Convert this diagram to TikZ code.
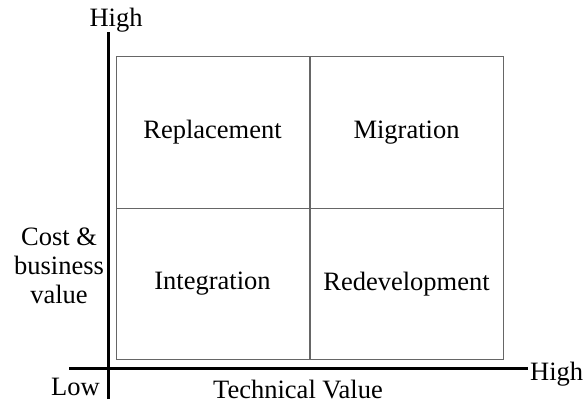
\documentclass[tikz,border=0pt]{standalone}
\usepackage{fontspec}
\setmainfont{Liberation Serif}
\usepackage{tikz}

\begin{document}
\begin{tikzpicture}[x=1pt, y=-1pt, font=\fontsize{26.5}{29}\selectfont]
    \tikzstyle{axis}=[draw,line width = 3pt,-,black!100]
    \tikzstyle{cell}=[draw,line width = 1pt,black!60,text=black,minimum width = 193pt,minimum height = 151.5pt,inner sep = 0pt]
    \tikzstyle{lbl}=[inner sep = 0pt]
    \useasboundingbox (0,0) rectangle (584,407);
    % quadrants
    \node[cell] (repl) at (212.5,132.5) {Replacement};
    \node[cell] (migr) at (406.5,132.5) {Migration};
    \node[cell] (integ) at (212.5,284) {Integration};
    \node[cell] (redev) at (406.5,284) {Redevelopment};
    % axes
    \coordinate (ytop) at (108,32);
    \coordinate (ybot) at (108,399);
    \coordinate (xleft) at (69,368);
    \coordinate (xright) at (528,368);
    \draw[axis] (ybot) -- (ytop);
    \draw[axis] (xleft) -- (xright);
    \node[lbl,anchor=base] (yhigh) at (116,26) {High};
    \node[lbl,anchor=base east] (low) at (100,395) {Low};
    \node[lbl,anchor=base west] (xhigh) at (530,380) {High};
    \node[lbl,anchor=base] (xlabel) at (298,398) {Technical Value};
    \node[lbl,align=center] (ylabel) at (59,266) {Cost \&\\business\\value};
\end{tikzpicture}
\end{document}
